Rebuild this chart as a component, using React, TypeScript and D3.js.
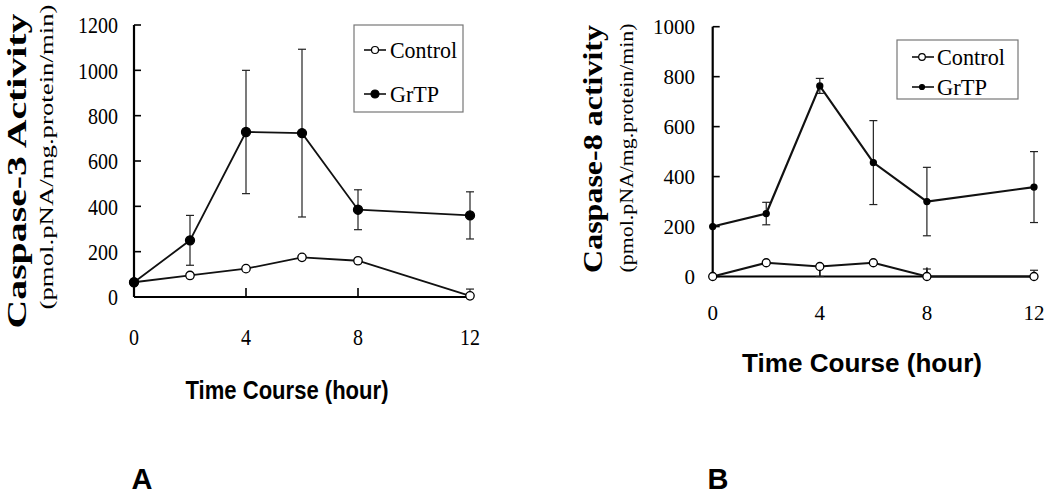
import { useEffect, useRef } from 'react';
import * as d3 from 'd3';

// time points (hours)
const hours = [0, 2, 4, 6, 8, 12];
const xTickValues = [0, 4, 8, 12];

// panel A: caspase-3
const casp3Control = [65, 95, 125, 175, 160, 5];
const casp3ControlErrUp = [0, 0, 0, 0, 0, 30];
const casp3ControlErrDown = [0, 0, 0, 0, 0, 0];
const casp3GrTP = [65, 250, 728, 723, 385, 360];
const casp3GrTPErr = [0, 110, 272, 370, 88, 104];
const casp3YTicks = [0, 200, 400, 600, 800, 1000, 1200];

// panel B: caspase-8
const casp8Control = [0, 55, 40, 55, 0, 0];
const casp8ControlErrUp = [0, 0, 0, 0, 30, 25];
const casp8ControlErrDown = [0, 0, 40, 0, 0, 0];
const casp8GrTP = [200, 252, 763, 456, 300, 358];
const casp8GrTPErr = [0, 45, 30, 168, 137, 142];
const casp8YTicks = [0, 200, 400, 600, 800, 1000];

const serif = "Liberation Serif, Times New Roman, serif";
const sans = "Liberation Sans, Arial, sans-serif";

type panelType = {
  left: number; right: number; top: number; bottom: number; yMax: number;
  yTicks: number[];
  control: number[]; controlUp: number[]; controlDown: number[];
  grtp: number[]; grtpErr: number[];
  tickFont: number; digitW: number; yLabelX: number; xLabelY: number;
  title: string; titleX: number; titleY: number; titleLen: number; titleSize: number;
  sub: string; subX: number; subY: number; subLen: number; subSize: number;
  xTitleX: number; xTitleY: number; xTitleLen: number;
  legend: { x: number; y: number; w: number; h: number; row1: number; row2: number; lx0: number; lx1: number; mx: number; tx: number; tlen: number; glen: number };
  grtpR: number; controlR: number; lineW: number;
  panelLabel: string; panelLabelX: number;
};

function drawPanel(svg: any, p: panelType) {
  const x = d3.scaleLinear().domain([0, 12]).range([p.left, p.right]);
  const y = d3.scaleLinear().domain([0, p.yMax]).range([p.bottom, p.top]);
  const g = svg.append('g');

  // axes
  g.append('line').attr('x1', x(0)).attr('x2', x(0)).attr('y1', y(p.yMax)).attr('y2', y(0))
    .attr('stroke', '#000').attr('stroke-width', 2.2);
  g.append('line').attr('x1', x(0)).attr('x2', x(12) + 3).attr('y1', y(0)).attr('y2', y(0))
    .attr('stroke', '#000').attr('stroke-width', 2.2);

  g.selectAll('.ytick').data(p.yTicks).enter().append('line').attr('class', 'ytick')
    .attr('x1', x(0)).attr('x2', x(0) + 7).attr('y1', (d) => y(d)).attr('y2', (d) => y(d))
    .attr('stroke', '#000').attr('stroke-width', 1.6);
  g.selectAll('.ylab').data(p.yTicks).enter().append('text').attr('class', 'ylab')
    .attr('x', p.yLabelX).attr('y', (d) => y(d)).attr('dy', '0.36em')
    .attr('text-anchor', 'end').attr('font-family', serif).attr('font-size', p.tickFont)
    .attr('textLength', (d) => String(d).length * p.digitW).attr('lengthAdjust', 'spacingAndGlyphs')
    .text((d) => String(d));

  g.selectAll('.xtick').data(xTickValues.slice(1, 3)).enter().append('line').attr('class', 'xtick')
    .attr('x1', (d) => x(d)).attr('x2', (d) => x(d)).attr('y1', y(0)).attr('y2', y(0) - 9)
    .attr('stroke', '#000').attr('stroke-width', 1.6);
  g.selectAll('.xlab').data(xTickValues).enter().append('text').attr('class', 'xlab')
    .attr('x', (d) => x(d)).attr('y', p.xLabelY).attr('dy', '0.36em').attr('text-anchor', 'middle')
    .attr('font-family', serif).attr('font-size', p.tickFont)
    .attr('textLength', (d) => String(d).length * p.digitW).attr('lengthAdjust', 'spacingAndGlyphs')
    .text((d) => String(d));

  // titles
  g.append('text').attr('transform', `translate(${p.titleX},${p.titleY}) rotate(-90)`)
    .attr('text-anchor', 'middle').attr('font-family', serif).attr('font-weight', 'bold')
    .attr('font-size', p.titleSize).attr('textLength', p.titleLen)
    .attr('lengthAdjust', 'spacingAndGlyphs').text(p.title);
  g.append('text').attr('transform', `translate(${p.subX},${p.subY}) rotate(-90)`)
    .attr('text-anchor', 'middle').attr('font-family', serif)
    .attr('font-size', p.subSize).attr('textLength', p.subLen)
    .attr('lengthAdjust', 'spacingAndGlyphs').text(p.sub);
  g.append('text').attr('x', p.xTitleX).attr('y', p.xTitleY).attr('text-anchor', 'middle')
    .attr('font-family', sans).attr('font-weight', 'bold').attr('font-size', 25)
    .attr('textLength', p.xTitleLen).attr('lengthAdjust', 'spacingAndGlyphs')
    .text('Time Course (hour)');

  g.append('text').attr('x', p.panelLabelX).attr('y', 489).attr('text-anchor', 'middle')
    .attr('font-family', sans).attr('font-weight', 'bold').attr('font-size', 29)
    .text(p.panelLabel);

  const line = d3.line<number>().x((d, i) => x(hours[i])).y((d) => y(d));

  const series = [
    { vals: p.control, up: p.controlUp, down: p.controlDown, filled: false, r: p.controlR },
    { vals: p.grtp, up: p.grtpErr, down: p.grtpErr, filled: true, r: p.grtpR },
  ];

  for (const s of series) {
    // error bars
    hours.forEach((h, i) => {
      if (s.up[i] <= 0 && s.down[i] <= 0) return;
      const hi = s.vals[i] + s.up[i];
      const lo = Math.max(0, s.vals[i] - s.down[i]);
      g.append('line').attr('x1', x(h)).attr('x2', x(h)).attr('y1', y(hi)).attr('y2', y(lo))
        .attr('stroke', '#222').attr('stroke-width', 1.2);
      const caps = [];
      if (s.up[i] > 0) caps.push(hi);
      if (s.down[i] > 0) caps.push(lo);
      for (const v of caps) {
        g.append('line').attr('x1', x(h) - 4).attr('x2', x(h) + 4).attr('y1', y(v)).attr('y2', y(v))
          .attr('stroke', '#222').attr('stroke-width', 1.2);
      }
    });
    g.append('path').attr('d', line(s.vals)).attr('fill', 'none')
      .attr('stroke', '#111').attr('stroke-width', p.lineW);
    g.selectAll(null).data(s.vals).enter().append('circle')
      .attr('cx', (d, i) => x(hours[i])).attr('cy', (d) => y(d)).attr('r', s.r)
      .attr('fill', s.filled ? '#000' : '#fff').attr('stroke', '#000').attr('stroke-width', 1.3);
  }

  // legend
  const L = p.legend;
  g.append('rect').attr('x', L.x).attr('y', L.y).attr('width', L.w).attr('height', L.h)
    .attr('fill', '#fff').attr('stroke', '#777').attr('stroke-width', 1.2);
  const rows = [
    { name: 'Control', cy: L.row1, filled: false, r: p.controlR - 0.7, len: L.tlen },
    { name: 'GrTP', cy: L.row2, filled: true, r: p.grtpR - 0.5, len: L.glen },
  ];
  for (const r of rows) {
    g.append('line').attr('x1', L.lx0).attr('x2', L.lx1).attr('y1', r.cy).attr('y2', r.cy)
      .attr('stroke', '#000').attr('stroke-width', 1.5);
    g.append('circle').attr('cx', L.mx).attr('cy', r.cy).attr('r', r.r)
      .attr('fill', r.filled ? '#000' : '#fff').attr('stroke', '#000').attr('stroke-width', 1.2);
    g.append('text').attr('x', L.tx).attr('y', r.cy).attr('dy', '0.33em')
      .attr('font-family', serif).attr('font-size', 24)
      .attr('textLength', r.len).attr('lengthAdjust', 'spacingAndGlyphs').text(r.name);
  }
}

const panelA: panelType = {
  left: 134, right: 470, top: 25, bottom: 297, yMax: 1200, yTicks: casp3YTicks,
  control: casp3Control, controlUp: casp3ControlErrUp, controlDown: casp3ControlErrDown,
  grtp: casp3GrTP, grtpErr: casp3GrTPErr,
  tickFont: 23, digitW: 10, yLabelX: 118, xLabelY: 337,
  title: 'Caspase-3  Activity', titleX: 26, titleY: 171, titleLen: 315, titleSize: 27,
  sub: '(pmol.pNA/mg.protein/min)', subX: 53, subY: 157, subLen: 305, subSize: 19,
  xTitleX: 287, xTitleY: 399, xTitleLen: 203,
  legend: { x: 354, y: 25, w: 109, h: 87, row1: 50, row2: 94, lx0: 364, lx1: 386, mx: 375, tx: 390, tlen: 67, glen: 49 },
  grtpR: 4.5, controlR: 4.2, lineW: 1.8,
  panelLabel: 'A', panelLabelX: 142,
};

const panelB: panelType = {
  left: 712.7, right: 1034, top: 26.7, bottom: 276.5, yMax: 1000, yTicks: casp8YTicks,
  control: casp8Control, controlUp: casp8ControlErrUp, controlDown: casp8ControlErrDown,
  grtp: casp8GrTP, grtpErr: casp8GrTPErr,
  tickFont: 21, digitW: 10.5, yLabelX: 695, xLabelY: 312,
  title: 'Caspase-8 activity', titleX: 602, titleY: 149, titleLen: 248, titleSize: 27,
  sub: '(pmol.pNA/mg.protein/min)', subX: 633, subY: 148, subLen: 249, subSize: 19,
  xTitleX: 862, xTitleY: 372, xTitleLen: 240,
  legend: { x: 897, y: 40, w: 121, h: 59, row1: 57, row2: 87, lx0: 912, lx1: 934, mx: 922, tx: 937, tlen: 68, glen: 50 },
  grtpR: 3, controlR: 4, lineW: 2.2,
  panelLabel: 'B', panelLabelX: 718,
};

const App = () => {
  const ref = useRef(null);
  useEffect(() => {
    document.body.style.margin = '0';
    const root = d3.select(ref.current);
    root.selectAll('*').remove();
    const svg = root.append('svg').attr('width', 1050).attr('height', 494)
      .style('display', 'block').style('background', '#fff');
    drawPanel(svg, panelA);
    drawPanel(svg, panelB);
  }, []);
  return <div ref={ref}></div>;
};

export default App;
